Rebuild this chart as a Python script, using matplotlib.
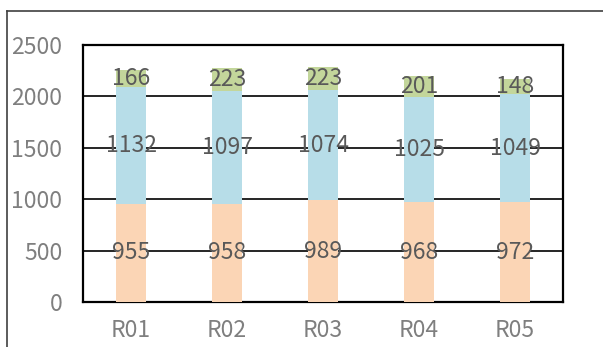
import matplotlib
matplotlib.use("Agg")
import matplotlib.pyplot as plt
from matplotlib.lines import Line2D

categories = ["R01", "R02", "R03", "R04", "R05"]
s1 = [955, 958, 989, 968, 972]
s2 = [1132, 1097, 1074, 1025, 1049]
s3 = [166, 223, 223, 201, 148]
yticks = [0, 500, 1000, 1500, 2000, 2500]

colors = ["#FBD5B5", "#B7DDE8", "#C3D69B"]
plt.rcParams['font.family'] = ['Noto Sans CJK JP', 'DejaVu Sans']

fig = plt.figure(figsize=(6.03, 3.47), dpi=100)
ax = fig.add_axes([83/603, 1-302/347, (563-83)/603, (302-45)/347])

x = range(len(categories))
bottom = [0]*len(categories)
for vals, c in zip([s1, s2, s3], colors):
    ax.bar(x, vals, width=0.31, bottom=bottom, color=c, zorder=3)
    for i, v in enumerate(vals):
        ax.text(i, bottom[i] + v/2, str(v), ha='center', va='center',
                fontsize=16.5, color='#595959', zorder=4)
    bottom = [b + v for b, v in zip(bottom, vals)]

ax.set_ylim(0, 2500)
ax.set_xlim(-0.5, 4.5)
ax.set_yticks(yticks)
ax.set_xticks(list(x))
ax.set_xticklabels(categories)
ax.yaxis.grid(True, color='black', linewidth=1.2, zorder=1)
ax.set_axisbelow(True)
ax.tick_params(length=0, labelsize=16.5, labelcolor='#7F7F7F')
ax.tick_params(axis='y', pad=15)
ax.tick_params(axis='x', pad=12)
for s in ax.spines.values():
    s.set_color('black')
    s.set_linewidth(1.6)

fig.add_artist(Line2D([7/603, 1.0], [1-11/347, 1-11/347], color='#404040', lw=1.2, transform=fig.transFigure))
fig.add_artist(Line2D([7/603, 7/603], [0, 1-11/347], color='#404040', lw=1.2, transform=fig.transFigure))

fig.savefig("out.png", dpi=100)
